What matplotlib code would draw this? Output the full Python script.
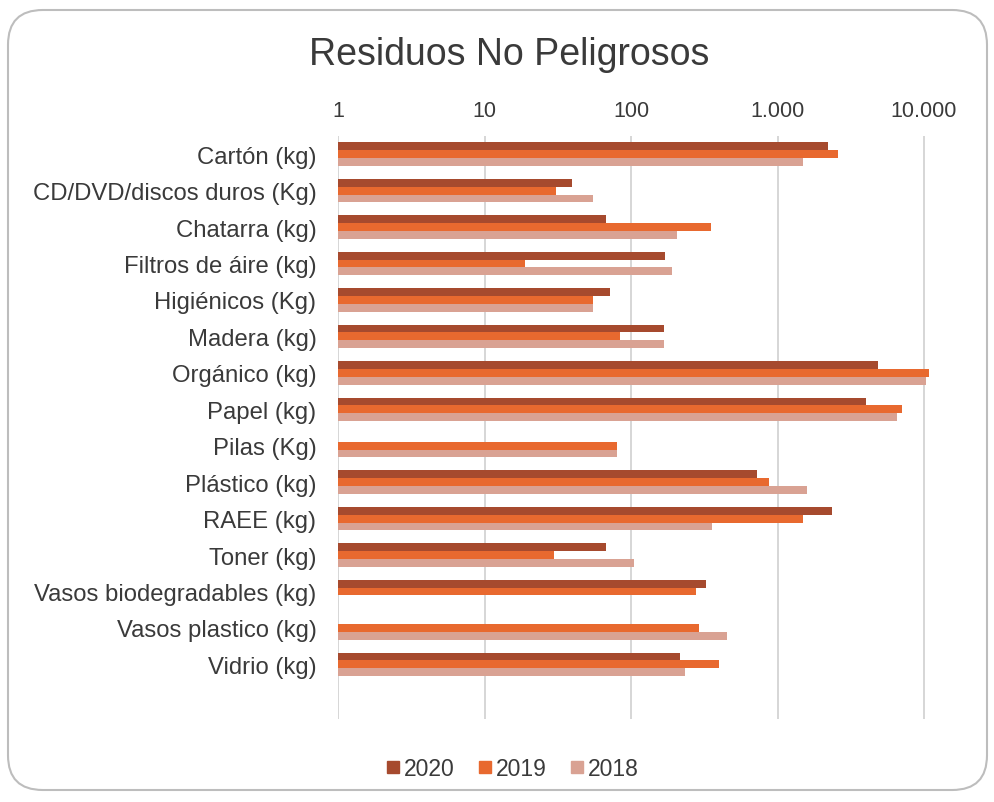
import matplotlib
matplotlib.use("Agg")
import matplotlib.pyplot as plt
import numpy as np
from matplotlib.patches import FancyBboxPatch
from matplotlib.lines import Line2D
from matplotlib.ticker import FixedLocator, FuncFormatter

plt.rcParams['font.family'] = ['Liberation Sans', 'DejaVu Sans']

categories = ["Cartón (kg)", "CD/DVD/discos duros (Kg)", "Chatarra (kg)", "Filtros de áire (kg)",
              "Higiénicos (Kg)", "Madera (kg)", "Orgánico (kg)", "Papel (kg)", "Pilas (Kg)",
              "Plástico (kg)", "RAEE (kg)", "Toner (kg)", "Vasos biodegradables (kg)",
              "Vasos plastico (kg)", "Vidrio (kg)"]
years = ["2020", "2019", "2018"]
v2020 = [2213, 38.6, 67, 170, 71, 166, 4840, 4018, np.nan, 728, 2355, 67, 325, np.nan, 215]
v2019 = [2600, 30, 352, 18, 54, 83, 10860, 7117, 79, 877, 1487, 28.6, 276, 289, 396]
v2018 = [1487, 53.6, 206, 188, 54, 166, 10330, 6560, 79, 1583, 354, 104, np.nan, 454, 232]
tick_values = [1, 10, 100, 1000, 10000]
tick_labels = ["1", "10", "100", "1.000", "10.000"]

colors = ["#A64A2E", "#E8692F", "#D9A293"]

fig = plt.figure(figsize=(9.94, 8.03), dpi=100)
fig.patch.set_facecolor("white")

border = FancyBboxPatch((8/994, 12/803), 979/994, 780/803,
                        boxstyle="round,pad=0,rounding_size=0.035",
                        transform=fig.transFigure, facecolor="none",
                        edgecolor="#BDBDBD", linewidth=1.5, mutation_aspect=994/803,
                        zorder=-5)
fig.patches.append(border)

ax = fig.add_axes([338/994, 1 - 720/803, (946 - 338)/994, (720 - 137)/803])
ax.set_facecolor("none")

y = np.arange(len(categories))
h = 0.215
for i, (vals, col) in enumerate(zip([v2020, v2019, v2018], colors)):
    ax.barh(y + (i - 1) * h, vals, height=h, left=1, color=col, zorder=3)

ax.set_xscale("log")
ax.set_xlim(1, 10 ** 4.15)
ax.set_ylim(len(categories) + 0.5, -0.5)
ax.xaxis.set_major_locator(FixedLocator(tick_values))
ax.xaxis.set_minor_locator(FixedLocator([]))
ax.xaxis.set_major_formatter(FuncFormatter(lambda v, p: tick_labels[tick_values.index(int(round(v)))] if int(round(v)) in tick_values else ""))
ax.xaxis.tick_top()
ax.tick_params(axis="x", length=0, labelsize=15.5, colors="#3A3A3A", pad=11)
ax.set_yticks(y)
ax.set_yticklabels(categories)
ax.tick_params(axis="y", length=0, labelsize=17.2, colors="#3A3A3A", pad=15.5)
ax.grid(axis="x", color="#CFCFCF", linewidth=1.2, zorder=0)
ax.grid(axis="y", visible=False)
for s in ax.spines.values():
    s.set_visible(False)

fig.text(509/994, 1 - 55/803, "Residuos No Peligrosos", ha="center", va="center",
         fontsize=27, color="#3A3A3A")

handles = [Line2D([], [], marker="s", linestyle="none", markersize=8, color=c) for c in colors]
fig.legend(handles, years, loc="center", bbox_to_anchor=(512/994, 1 - 770/803), ncol=3,
           frameon=False, fontsize=16.5, handletextpad=0.1, columnspacing=1.0,
           handlelength=0.7, labelcolor="#3A3A3A")

fig.savefig("out.png", dpi=100, facecolor="white")
